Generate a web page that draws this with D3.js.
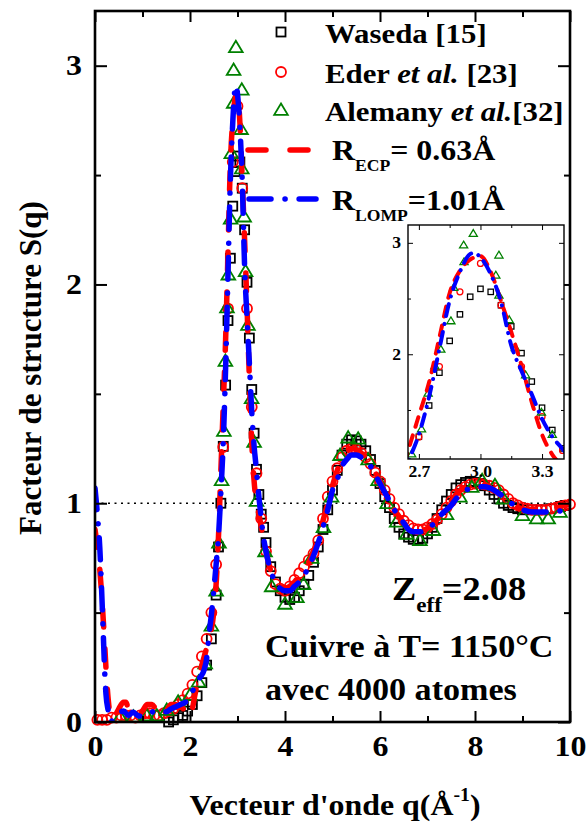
<!DOCTYPE html>
<html lang="fr">
<head>
<meta charset="UTF-8">
<title>Facteur de structure</title>
<script src="https://d3js.org/d3.v7.min.js"></script>
<style>
  body { margin: 0; background: #fff; }
  svg text { font-family: "Liberation Serif", "Times New Roman", serif; font-weight: bold; }
</style>
</head>
<body>
<svg id="main" width="586" height="828"></svg>
<script>
// courbes calculees [q, S(q)]
const ecpCurve = [[0,0.88],[0.05,0.8],[0.1,0.7],[0.15,0.55],[0.2,0.37],[0.25,0.18],[0.3,0.06],[0.35,0.01],[0.4,0.02],[0.5,0.06],[0.6,0.09],[0.65,0.09],[0.7,0.06],[0.8,0.03],[0.9,0.03],[1.0,0.05],[1.1,0.08],[1.2,0.08],[1.3,0.05],[1.4,0.03],[1.5,0.05],[1.6,0.08],[1.7,0.08],[1.8,0.07],[1.9,0.05],[1.97,0.02],[2.05,0.06],[2.1,0.12],[2.2,0.22],[2.3,0.3],[2.4,0.38],[2.5,0.5],[2.55,0.63],[2.6,0.85],[2.65,1.15],[2.7,1.45],[2.75,1.75],[2.8,2.15],[2.85,2.55],[2.9,2.75],[2.95,2.85],[3.0,2.88],[3.05,2.74],[3.1,2.48],[3.15,2.2],[3.2,1.9],[3.25,1.57],[3.3,1.28],[3.35,1.1],[3.4,1.0],[3.45,0.95],[3.5,0.89],[3.6,0.78],[3.7,0.69],[3.8,0.64],[3.9,0.62],[4.0,0.61],[4.1,0.62],[4.2,0.64],[4.3,0.67],[4.4,0.7],[4.5,0.73],[4.6,0.78],[4.7,0.84],[4.8,0.92],[4.9,1.0],[5.0,1.08],[5.1,1.15],[5.2,1.2],[5.3,1.235],[5.4,1.25],[5.5,1.245],[5.6,1.23],[5.7,1.21],[5.8,1.18],[5.9,1.14],[6.0,1.1],[6.1,1.05],[6.2,1.01],[6.3,0.97],[6.4,0.94],[6.5,0.91],[6.6,0.89],[6.7,0.875],[6.8,0.87],[6.9,0.875],[7.0,0.885],[7.1,0.9],[7.2,0.925],[7.3,0.95],[7.4,0.98],[7.5,1.01],[7.6,1.04],[7.7,1.06],[7.8,1.075],[7.9,1.085],[8.0,1.09],[8.1,1.09],[8.2,1.085],[8.3,1.075],[8.4,1.06],[8.5,1.045],[8.6,1.03],[8.7,1.01],[8.8,0.995],[8.9,0.98],[9.0,0.975],[9.2,0.97],[9.4,0.97],[9.6,0.975],[9.8,0.985],[10,0.995]];

const lompCurve = [[0,1.07],[0.05,0.95],[0.1,0.8],[0.14,0.6],[0.175,0.4],[0.2,0.25],[0.23,0.13],[0.28,0.05],[0.33,0.0],[0.4,0.02],[0.5,0.04],[0.6,0.05],[0.7,0.03],[0.8,0.045],[0.9,0.03],[1.0,0.025],[1.1,0.03],[1.2,0.045],[1.3,0.055],[1.4,0.05],[1.5,0.047],[1.6,0.06],[1.7,0.07],[1.8,0.08],[1.9,0.09],[2.0,0.12],[2.1,0.16],[2.2,0.2],[2.3,0.24],[2.35,0.29],[2.4,0.4],[2.45,0.49],[2.5,0.6],[2.55,0.72],[2.6,0.85],[2.65,1.05],[2.7,1.28],[2.75,1.62],[2.8,2.05],[2.85,2.48],[2.9,2.74],[2.95,2.9],[2.97,2.91],[3.0,2.87],[3.05,2.72],[3.1,2.47],[3.15,2.08],[3.2,1.85],[3.25,1.64],[3.3,1.42],[3.35,1.26],[3.4,1.15],[3.45,1.03],[3.5,0.93],[3.55,0.84],[3.6,0.78],[3.7,0.69],[3.8,0.64],[3.9,0.61],[4.0,0.6],[4.1,0.6],[4.2,0.62],[4.3,0.64],[4.4,0.67],[4.5,0.71],[4.6,0.76],[4.7,0.82],[4.8,0.89],[4.9,0.97],[5.0,1.06],[5.1,1.11],[5.2,1.17],[5.3,1.2],[5.4,1.22],[5.5,1.22],[5.6,1.21],[5.7,1.19],[5.8,1.17],[5.9,1.13],[6.0,1.09],[6.1,1.05],[6.2,1.01],[6.3,0.97],[6.4,0.94],[6.5,0.91],[6.6,0.88],[6.7,0.87],[6.8,0.87],[6.9,0.87],[7.0,0.88],[7.1,0.9],[7.2,0.92],[7.3,0.95],[7.4,0.97],[7.5,0.99],[7.6,1.02],[7.7,1.04],[7.8,1.06],[7.9,1.065],[8.0,1.07],[8.1,1.075],[8.2,1.075],[8.3,1.07],[8.4,1.06],[8.5,1.045],[8.6,1.03],[8.7,1.01],[8.8,0.995],[8.9,0.98],[9.0,0.97],[9.2,0.96],[9.4,0.96],[9.6,0.96],[9.8,0.965],[10,0.98]];

// donnees experimentales
const waseda = [[1.55,0.0],[1.65,0.01],[1.75,0.02],[1.85,0.03],[1.95,0.05],[2.05,0.08],[2.15,0.12],[2.25,0.18],[2.35,0.26],[2.45,0.38],[2.55,0.58],[2.6,0.8],[2.65,1.0],[2.7,1.26],[2.75,1.54],[2.8,1.835],[2.85,2.12],[2.9,2.358],[2.95,2.516],[3.0,2.587],[3.05,2.56],[3.1,2.44],[3.15,2.25],[3.2,2.01],[3.25,1.755],[3.3,1.52],[3.35,1.32],[3.4,1.155],[3.45,1.04],[3.5,0.95],[3.55,0.89],[3.6,0.82],[3.7,0.71],[3.8,0.64],[3.9,0.6],[4.0,0.57],[4.1,0.56],[4.2,0.57],[4.3,0.6],[4.4,0.63],[4.5,0.67],[4.6,0.73],[4.7,0.8],[4.8,0.88],[4.9,0.97],[5.0,1.06],[5.1,1.15],[5.2,1.22],[5.3,1.27],[5.4,1.29],[5.5,1.285],[5.6,1.27],[5.7,1.24],[5.8,1.2],[5.9,1.15],[6.0,1.09],[6.1,1.03],[6.2,0.98],[6.3,0.93],[6.4,0.89],[6.5,0.86],[6.6,0.845],[6.7,0.835],[6.8,0.835],[6.9,0.84],[7.0,0.86],[7.1,0.89],[7.2,0.93],[7.3,0.97],[7.4,1.01],[7.5,1.04],[7.6,1.07],[7.7,1.085],[7.8,1.095],[7.9,1.1],[8.0,1.095],[8.1,1.09],[8.2,1.08],[8.3,1.06],[8.4,1.04],[8.5,1.02],[8.6,1.0],[8.7,0.99],[8.8,0.98],[8.9,0.975],[9.0,0.97],[9.2,0.97],[9.4,0.97],[9.6,0.975],[9.8,0.985],[9.9,0.99]];

const eder = [[0.05,0.01],[0.15,0.01],[0.25,0.01],[0.35,0.02],[0.45,0.02],[0.55,0.03],[0.65,0.03],[0.75,0.03],[0.85,0.02],[0.95,0.03],[1.05,0.04],[1.15,0.04],[1.25,0.03],[1.35,0.03],[1.45,0.04],[1.55,0.05],[1.65,0.06],[1.75,0.08],[1.85,0.1],[1.95,0.13],[2.05,0.17],[2.15,0.23],[2.25,0.3],[2.35,0.38],[2.45,0.5],[2.55,0.72],[2.7,1.257],[2.8,1.89],[2.9,2.56],[3.0,2.815],[3.1,2.44],[3.2,1.89],[3.3,1.44],[3.4,1.137],[3.5,0.93],[3.6,0.78],[3.7,0.69],[3.8,0.63],[3.9,0.61],[4.0,0.6],[4.1,0.62],[4.2,0.65],[4.3,0.68],[4.4,0.71],[4.5,0.74],[4.6,0.77],[4.7,0.83],[4.8,0.93],[4.9,1.03],[5.0,1.1],[5.1,1.16],[5.2,1.21],[5.3,1.24],[5.4,1.25],[5.5,1.245],[5.6,1.23],[5.7,1.21],[5.8,1.18],[5.9,1.14],[6.0,1.1],[6.1,1.06],[6.2,1.02],[6.3,0.98],[6.4,0.95],[6.5,0.92],[6.6,0.9],[6.7,0.885],[6.8,0.88],[6.9,0.88],[7.0,0.89],[7.1,0.905],[7.2,0.925],[7.3,0.95],[7.4,0.98],[7.5,1.01],[7.6,1.04],[7.7,1.06],[7.8,1.075],[7.9,1.085],[8.0,1.09],[8.1,1.09],[8.2,1.085],[8.3,1.08],[8.4,1.07],[8.5,1.06],[8.6,1.04],[8.7,1.02],[8.8,1.0],[8.9,0.99],[9.0,0.98],[9.1,0.975],[9.2,0.97],[9.3,0.97],[9.4,0.97],[9.5,0.97],[9.6,0.975],[9.7,0.98],[9.8,0.985],[9.9,0.99],[10.0,0.995]];

const alemany = [[0.53,0.024],[0.81,0.024],[1.09,0.03],[1.3,0.03],[1.51,0.055],[1.75,0.093],[2.0,0.123],[2.18,0.184],[2.32,0.268],[2.45,0.44],[2.55,0.6],[2.61,0.82],[2.665,1.105],[2.713,1.33],[2.745,1.65],[2.778,1.895],[2.807,2.045],[2.856,2.3],[2.87,2.6],[2.92,2.83],[2.918,2.98],[2.965,3.084],[3.075,2.71],[3.09,2.89],[3.09,2.53],[3.14,2.31],[3.17,2.06],[3.22,1.815],[3.297,1.48],[3.35,1.28],[3.4,1.01],[3.58,0.78],[3.72,0.62],[4.0,0.54],[4.25,0.57],[4.39,0.63],[4.56,0.75],[4.81,0.89],[4.98,1.03],[5.16,1.22],[5.33,1.3],[5.54,1.295],[5.75,1.2],[5.96,1.105],[6.15,1.0],[6.35,0.915],[6.56,0.86],[6.84,0.831],[7.12,0.877],[7.4,0.95],[7.68,1.03],[7.93,1.074],[8.15,1.105],[8.42,1.082],[8.6,1.021],[9.0,0.945],[9.3,0.93],[9.54,0.93],[9.79,0.96]];

const mainXTicks = [0, 2, 4, 6, 8, 10];
const mainYTicks = [0, 1, 2, 3];
const insetXTicks = [2.7, 3.0, 3.3];
const insetYTicks = [2, 3];

const SX = 1.1; // les textes de l'original sont un peu plus larges

const svg = d3.select('#main');

const x = d3.scaleLinear().domain([0, 10]).range([95, 570]);
const y = d3.scaleLinear().domain([0, 3.25]).range([722, 11]);

const xi = d3.scaleLinear().domain([2.647, 3.407]).range([408, 564]);
const yi = d3.scaleLinear().domain([1.06, 3.16]).range([459, 225]);

svg.append('clipPath').attr('id', 'clipMain')
  .append('rect').attr('x', 95).attr('y', 11).attr('width', 475).attr('height', 711);
svg.append('clipPath').attr('id', 'clipInset')
  .append('rect').attr('x', 408).attr('y', 225).attr('width', 156).attr('height', 234);

// ligne S=1
svg.append('line')
  .attr('x1', x(0)).attr('x2', x(10)).attr('y1', y(1)).attr('y2', y(1))
  .attr('stroke', '#000').attr('stroke-width', 1.4).attr('stroke-dasharray', '2 4.5');

function drawAxes(g, xs, ys, o) {
  const [x0, x1] = xs.range(), [y0, y1] = ys.range();
  const axes = [
    [() => d3.axisBottom(xs), y0, o.xMajor, o.xMinor, o.xLen, o.xFmt],
    [() => d3.axisTop(xs), y1, o.xMajor, o.xMinor, o.xLen, null],
    [() => d3.axisLeft(ys), x0, o.yMajor, o.yMinor, o.yLen, o.yFmt],
    [() => d3.axisRight(ys), x1, o.yMajor, o.yMinor, o.yLen, null]
  ];
  axes.forEach(([mk, pos, major, minor, len, fmt], i) => {
    const tr = i < 2 ? `translate(0,${pos})` : `translate(${pos},0)`;
    const gMin = g.append('g').attr('transform', tr)
      .call(mk().tickValues(minor).tickSize(-len[1]).tickFormat(''));
    const gMaj = g.append('g').attr('transform', tr)
      .call(mk().tickValues(major).tickSize(-len[0])
        .tickPadding(o.pad).tickFormat(fmt || (() => '')));
    [gMin, gMaj].forEach(a => {
      a.select('.domain').remove();
      a.selectAll('.tick line').attr('stroke', '#000').attr('stroke-width', o.tw);
      a.selectAll('text').attr('font-size', o.fs).attr('fill', '#000')
        .attr('transform', `scale(${SX},1)`)
        .attr('x', function() { return (+d3.select(this).attr('x') || 0) / SX; })
        .style('font-family', '"Liberation Serif", serif').style('font-weight', 'bold');
    });
  });
  g.append('rect').attr('x', x0).attr('y', y1).attr('width', x1 - x0).attr('height', y0 - y1)
    .attr('fill', 'none').attr('stroke', '#000').attr('stroke-width', o.frame);
}

function drawMarkers(g, xs, ys, sc, inside) {
  const keep = d => !inside || (d[0] >= xs.domain()[0] && d[0] <= xs.domain()[1] &&
                                d[1] >= ys.domain()[0] && d[1] <= ys.domain()[1]);
  const s = 9 * sc, r = 5 * sc, t = 6.5 * sc, sw = 1.8 * Math.max(sc, 0.7);
  g.append('g').selectAll('rect').data(waseda.filter(keep)).join('rect')
    .attr('x', d => xs(d[0]) - s / 2).attr('y', d => ys(d[1]) - s / 2)
    .attr('width', s).attr('height', s)
    .attr('fill', 'none').attr('stroke', '#000').attr('stroke-width', sw);
  g.append('g').selectAll('circle').data(eder.filter(keep)).join('circle')
    .attr('cx', d => xs(d[0])).attr('cy', d => ys(d[1])).attr('r', r)
    .attr('fill', 'none').attr('stroke', '#ff0000').attr('stroke-width', sw);
  g.append('g').selectAll('path').data(alemany.filter(keep)).join('path')
    .attr('d', d => {
      const cx = xs(d[0]), cy = ys(d[1]);
      return `M${cx},${cy - t}L${cx + t * 1.05},${cy + t * 0.75}L${cx - t * 1.05},${cy + t * 0.75}Z`;
    })
    .attr('fill', 'none').attr('stroke', '#008000').attr('stroke-width', sw);
}

function drawCurves(g, xs, ys, w, redDash, blueDash) {
  const line = d3.line().x(d => xs(d[0])).y(d => ys(d[1])).curve(d3.curveMonotoneX);
  g.append('path').datum(ecpCurve).attr('d', line)
    .attr('fill', 'none').attr('stroke', '#ff0000').attr('stroke-width', w)
    .attr('stroke-linecap', 'round').attr('stroke-dasharray', redDash);
  g.append('path').datum(lompCurve).attr('d', line)
    .attr('fill', 'none').attr('stroke', '#0000ff').attr('stroke-width', w)
    .attr('stroke-linecap', 'round').attr('stroke-dasharray', blueDash);
}

const gMain = svg.append('g');
drawMarkers(gMain, x, y, 1, false);
drawCurves(gMain.append('g').attr('clip-path', 'url(#clipMain)'), x, y, 5.5, '18 22', '22 14 0.1 14');

drawAxes(svg.append('g'), x, y, {
  xMajor: mainXTicks, xMinor: [1, 3, 5, 7, 9], xLen: [11, 6],
  yMajor: mainYTicks, yMinor: [0.5, 1.5, 2.5], yLen: [12, 6],
  pad: 13, fs: 29, tw: 2, frame: 2.6, xFmt: d3.format('d'), yFmt: d3.format('d')
});

// encart
svg.append('rect').attr('x', 408).attr('y', 225).attr('width', 156).attr('height', 234).attr('fill', '#fff');
const gIn = svg.append('g');
const gInData = gIn.append('g').attr('clip-path', 'url(#clipInset)');
drawMarkers(gInData, xi, yi, 0.6, true);
drawCurves(gInData, xi, yi, 4, '10 9', '12 8 0.1 8');
drawAxes(gIn.append('g'), xi, yi, {
  xMajor: insetXTicks, xMinor: [2.85, 3.15], xLen: [5, 3],
  yMajor: insetYTicks, yMinor: [1.5, 2.5], yLen: [5, 3],
  pad: 7, fs: 16, tw: 1, frame: 1.4, xFmt: d3.format('.1f'), yFmt: d3.format('d')
});

// texte elargi
function wideText(xx, yy, fs) {
  return svg.append('text').attr('transform', `translate(${xx},${yy}) scale(${SX},1)`).attr('font-size', fs);
}

// legende
const leg = svg.append('g');
const legItems = [
  {type: 'sq', yy: 32, label: ['Waseda [15]']},
  {type: 'ci', yy: 72, label: ['Eder ', 'et al.', ' [23]']},
  {type: 'tr', yy: 110, label: ['Alemany ', 'et al.', '[32]']}
];
legItems.forEach(m => {
  if (m.type === 'sq') leg.append('rect').attr('x', 276.5).attr('y', m.yy - 4.5).attr('width', 9).attr('height', 9)
    .attr('fill', 'none').attr('stroke', '#000').attr('stroke-width', 1.8);
  if (m.type === 'ci') leg.append('circle').attr('cx', 281).attr('cy', m.yy).attr('r', 5)
    .attr('fill', 'none').attr('stroke', '#ff0000').attr('stroke-width', 1.8);
  if (m.type === 'tr') leg.append('path')
    .attr('d', `M281,${m.yy - 6.5}L287.8,${m.yy + 4.9}L274.2,${m.yy + 4.9}Z`)
    .attr('fill', 'none').attr('stroke', '#008000').attr('stroke-width', 1.8);
  const t = wideText(325, m.yy + 11, 28);
  m.label.forEach((s, j) => t.append('tspan').text(s).style('font-style', j === 1 ? 'italic' : 'normal'));
});

leg.append('line').attr('x1', 248).attr('x2', 312).attr('y1', 150).attr('y2', 150)
  .attr('stroke', '#ff0000').attr('stroke-width', 5.5).attr('stroke-linecap', 'round').attr('stroke-dasharray', '18 24');
leg.append('line').attr('x1', 249).attr('x2', 316).attr('y1', 199).attr('y2', 199)
  .attr('stroke', '#0000ff').attr('stroke-width', 5.5).attr('stroke-linecap', 'round').attr('stroke-dasharray', '22 14 0.1 14');

function subText(xx, yy, fs, main, sub, rest, subFs, subDy) {
  const t = wideText(xx, yy, fs);
  t.append('tspan').text(main);
  t.append('tspan').attr('font-size', subFs).attr('dy', subDy).text(sub);
  t.append('tspan').attr('dy', -subDy).text(rest);
  return t;
}
subText(332, 160, 29, 'R', 'ECP', '= 0.63Å', 16, 11);
subText(332, 210, 29, 'R', 'LOMP', '=1.01Å', 16, 11);
subText(392, 600, 33, 'Z', 'eff', '=2.08', 21, 12);

wideText(265, 657, 31).text('Cuivre à T= 1150°C');
wideText(265, 700, 31).text('avec 4000 atomes');

// titres des axes
const xt = wideText(335, 815, 29).attr('text-anchor', 'middle');
xt.append('tspan').text("Vecteur d'onde q(Å");
xt.append('tspan').attr('font-size', 18).attr('dy', -14).text('-1');
xt.append('tspan').attr('dy', 14).text(')');

svg.append('text').attr('transform', 'translate(41,368) rotate(-90)')
  .attr('font-size', 31).attr('text-anchor', 'middle').text('Facteur de structure S(q)');
</script>
</body>
</html>
